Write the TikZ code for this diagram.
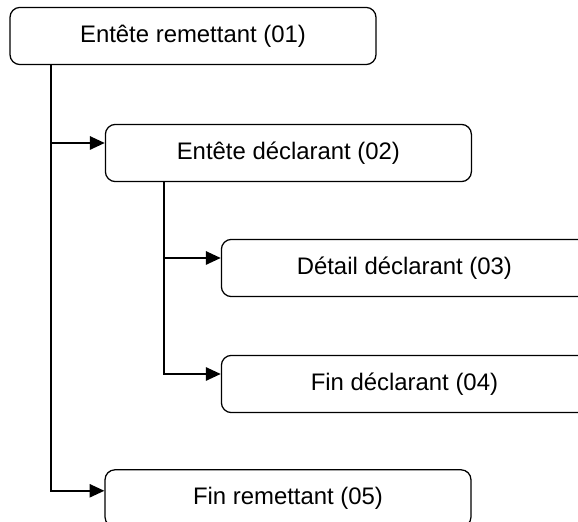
\documentclass[tikz,border=0pt]{standalone}
\usepackage{fontspec}
\setmainfont{Liberation Sans}
\usepackage{xcolor}
\usetikzlibrary{arrows.meta, positioning, calc}

\begin{document}
\begin{tikzpicture}[
    record/.style={rectangle, draw=black, line width=0.9pt, rounded corners=0.25cm, minimum width=9.15cm, minimum height=1.43cm, font=\fontsize{17}{20}\selectfont, align=center},
    link/.style={draw=black, line width=1.4pt, -{Triangle[length=0.37cm, width=0.33cm]}}
]
    \useasboundingbox (0, 0) rectangle (14.45, 13.05);

    % Records
    \node[record] (rem) at (4.825, 12.15) {Entête remettant (01)};
    \node[record] (decl) at (7.21, 9.225) {Entête déclarant (02)};
    \node[record] (det) at (10.11, 6.35) {Détail déclarant (03)};
    \node[record] (findecl) at (10.11, 3.45) {Fin déclarant (04)};
    \node[record] (finrem) at (7.2, 0.59) {Fin remettant (05)};

    % Trunks
    \coordinate (t1) at ([xshift=1.05cm]rem.south west);
    \coordinate (t2) at ([xshift=1.475cm]decl.south west);

    % Links
    \draw[link] (t1) |- ([yshift=0.25cm]decl.west);
    \draw[link] (t1) |- ([yshift=0.19cm]finrem.west);
    \draw[link] (t2) |- ([yshift=0.25cm]det.west);
    \draw[link] (t2) |- ([yshift=0.25cm]findecl.west);
\end{tikzpicture}
\end{document}
